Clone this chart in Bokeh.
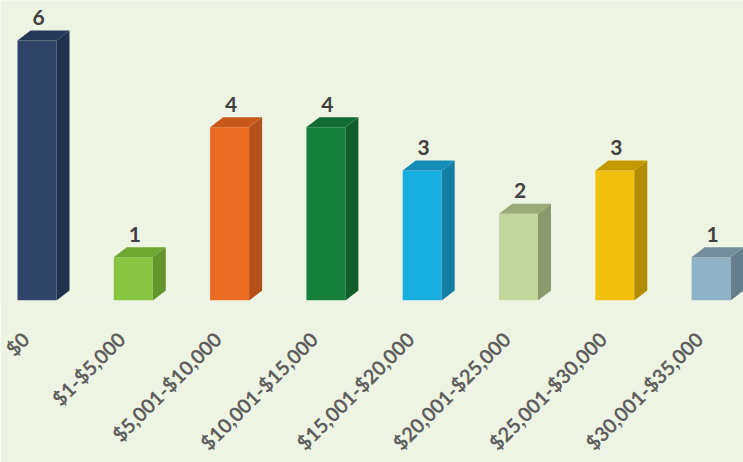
from bokeh.plotting import figure
from bokeh.models import Range1d, FixedTicker, ColumnDataSource
from bokeh.core.properties import value
from bokeh.embed import file_html
from bokeh.resources import INLINE
import math

categories = ["$0", "$1-$5,000", "$5,001-$10,000", "$10,001-$15,000",
              "$15,001-$20,000", "$20,001-$25,000", "$25,001-$30,000", "$30,001-$35,000"]
counts = [6, 1, 4, 4, 3, 2, 3, 1]
front_colors = ["#2f4468", "#88c540", "#ec6b23", "#17803f", "#19aee0", "#c3d69b", "#f1c10e", "#8fb3c6"]
side_colors = ["#22314d", "#62952c", "#b4501a", "#0f5c2c", "#137ea3", "#8b9a6d", "#b38c00", "#677f8c"]
top_colors = ["#27395a", "#6ea832", "#c9581c", "#126a34", "#148db8", "#9aab77", "#c59a00", "#748e9c"]

BG = "#eef4e3"
PX_X = 96.3      # pixels per category
FRAME_W = 743
FRAME_H = 300
PX_Y = (FRAME_H - 40) / 6.0   # pixels per count unit
bar_w = 39 / PX_X
dx = 13 / PX_X
dy = 10 / PX_Y
shift = 12 / PX_X              # bars sit slightly right of their tick label anchor

x0 = shift - (17 + 19.5) / PX_X
p = figure(frame_width=FRAME_W, frame_height=FRAME_H,
           x_range=Range1d(x0, x0 + FRAME_W / PX_X),
           y_range=Range1d(0, FRAME_H / PX_Y),
           output_backend="svg", toolbar_location=None,
           y_axis_location=None, min_border=0,
           background_fill_color=BG, border_fill_color=BG)
p.outline_line_color = None
p.grid.visible = False

xs = list(range(len(categories)))
cx = [x + shift for x in xs]
p.quad(left=[c - bar_w / 2 for c in cx], right=[c + bar_w / 2 for c in cx],
       bottom=0, top=counts, fill_color=front_colors, line_color=None)

side_xs, side_ys, top_xs, top_ys = [], [], [], []
for c, v in zip(cx, counts):
    l, r = c - bar_w / 2, c + bar_w / 2
    side_xs.append([r, r + dx, r + dx, r])
    side_ys.append([0, dy, v + dy, v])
    top_xs.append([l, r, r + dx, l + dx])
    top_ys.append([v, v, v + dy, v + dy])
p.patches(side_xs, side_ys, fill_color=side_colors, line_color=None)
p.patches(top_xs, top_ys, fill_color=top_colors, line_color=None)

lab = ColumnDataSource(dict(x=[c + 1.5 / PX_X for c in cx],
                            y=[v + 23 / PX_Y for v in counts],
                            t=[str(v) for v in counts]))
p.text(x="x", y="y", text="t", source=lab, text_align="center",
       text_baseline="alphabetic", text_font=value("Lato"),
       text_font_style="bold", text_font_size="21px", text_color="#404040")

ax = p.xaxis[0]
ax.ticker = FixedTicker(ticks=xs)
ax.major_label_overrides = {i: c for i, c in enumerate(categories)}
ax.major_label_orientation = math.pi / 4
ax.major_label_standoff = 35
ax.major_label_text_font = "Lato"
ax.major_label_text_font_style = "bold"
ax.major_label_text_font_size = "20px"
ax.major_label_text_color = "#5e5e5e"
ax.axis_line_color = None
ax.major_tick_line_color = None
ax.minor_tick_line_color = None
ax.major_tick_out = 0
ax.major_tick_in = 0

open("out.html", "w").write(file_html(p, INLINE))
